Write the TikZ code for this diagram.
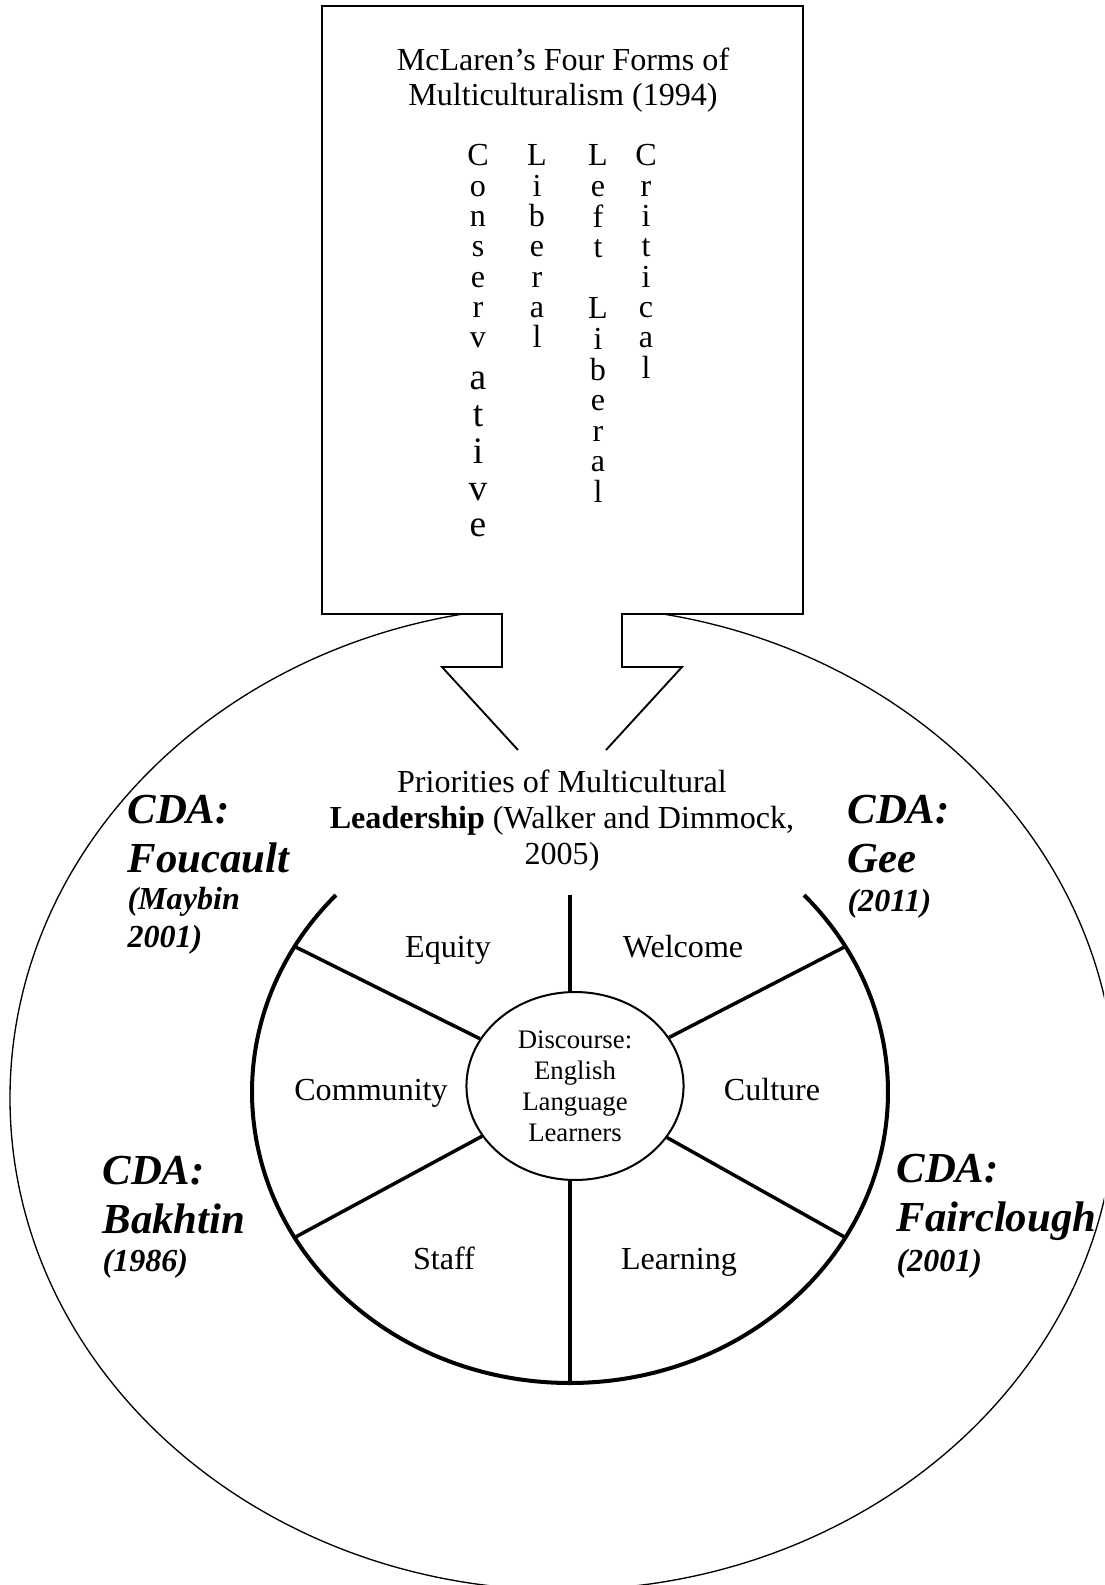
\documentclass[tikz,border=0pt]{standalone}
\usepackage{fontspec}
\setmainfont{Liberation Serif}
\usetikzlibrary{shapes.geometric}

\begin{document}
\begin{tikzpicture}[x=0.374pt,y=0.374pt,
  txt/.style={font=\fontsize{12}{13.1}\selectfont,inner sep=0pt,anchor=base},
  letter/.style={font=\fontsize{12}{13}\selectfont,inner sep=0pt,anchor=base},
  bigletter/.style={font=\fontsize{14}{15}\selectfont,inner sep=0pt,anchor=base},
  cdabig/.style={font=\fontsize{16}{18.1}\selectfont\bfseries\itshape,align=left,anchor=base west,inner sep=0pt},
  cdasmall/.style={font=\fontsize{12}{14}\selectfont\bfseries\itshape,align=left,anchor=base west,inner sep=0pt},
  rim/.style={line width=1.5pt},
  spoke/.style={line width=1.3pt}]
\useasboundingbox (0,0) rectangle (1104,-1585);
\clip (0,0) rectangle (1104,-1585);
% outer ellipse
\draw[line width=0.5pt] (563,-1098) ellipse [x radius=553, y radius=492];
% callout box with notch
\filldraw[fill=white,line width=0.7pt] (518,-750) -- (442,-667) -- (502,-667) -- (502,-614) -- (322,-614)
  -- (322,-6) -- (803,-6) -- (803,-614) -- (622,-614) -- (622,-667) -- (682,-667) -- (606,-750);
% base of a multi-line node = last line
\node[txt,align=center] (mclaren) at (563,-106) {McLaren’s Four Forms of\\Multiculturalism (1994)};
% the four forms, one letter per line
\foreach \ch [count=\k from 0] in {C,o,n,s,e,r,v}
  \node[letter] (cons\k) at (478,{-166-30.3*\k}) {\ch};
\foreach \ch [count=\k from 0] in {a,t,i,v,e}
  \node[bigletter] (consb\k) at (478,{-390-36.75*\k}) {\ch};
\foreach \ch [count=\k from 0] in {L,i,b,e,r,a,l}
  \node[letter] (lib\k) at (537,{-166-30.3*\k}) {\ch};
\foreach \ch [count=\k from 0] in {L,e,f,t,{},L,i,b,e,r,a,l}
  \node[letter] (left\k) at (598,{-166-30.6*\k}) {\ch};
\foreach \ch [count=\k from 0] in {C,r,i,t,i,c,a,l}
  \node[letter] (crit\k) at (646,{-166-30.3*\k}) {\ch};
% priorities title
\node[txt,align=center,font=\fontsize{12}{13.3}\selectfont] (prior) at (562,-864)
  {Priorities of Multicultural\\\textbf{Leadership} (Walker and Dimmock,\\2005)};
% wheel
\coordinate (wheelc) at (570,-1092);
\coordinate (rimtop) at (570,-895);
\coordinate (rimbot) at (570,-1383);
\foreach \a in {30,150,210,330}
  \path (wheelc) ++(\a:318 and 291) coordinate (rim\a);
\draw[rim] (wheelc) ++(137.4:318 and 291) arc[start angle=137.4, end angle=402.6, x radius=318, y radius=291];
\node[draw,ellipse,line width=0.75pt,inner sep=0pt,minimum width=81.2pt,minimum height=70.3pt,
  align=center,font=\fontsize{10}{11.6}\selectfont] (hub) at (575,-1086)
  {Discourse:\\English\\Language\\Learners};
\draw[spoke] (rimtop) -- (rimtop |- hub.north);
\draw[spoke] (rimbot) -- (rimbot |- hub.south);
\foreach \a in {30,150,210,330}
  \draw[spoke] (hub) -- (rim\a);
\node[txt] (equity) at (448,-957) {Equity};
\node[txt] (welcome) at (683,-957) {Welcome};
\node[txt] (community) at (371,-1100) {Community};
\node[txt] (culture) at (772,-1100) {Culture};
\node[txt] (staff) at (444,-1269) {Staff};
\node[txt] (learning) at (679,-1269) {Learning};
% CDA labels
\node[cdabig] (foucault) at (127,-872) {CDA:\\Foucault};
\node[cdasmall] (maybin) at (127,-947) {(Maybin\\2001)};
\node[cdabig] (gee) at (847,-872) {CDA:\\Gee};
\node[cdasmall] (gee11) at (847,-911) {(2011)};
\node[cdabig] (bakhtin) at (102,-1233) {CDA:\\Bakhtin};
\node[cdasmall] (bak86) at (102,-1271) {(1986)};
\node[cdabig] (fairclough) at (896,-1231) {CDA:\\Fairclough};
\node[cdasmall] (fair01) at (896,-1271) {(2001)};
\end{tikzpicture}
\end{document}
